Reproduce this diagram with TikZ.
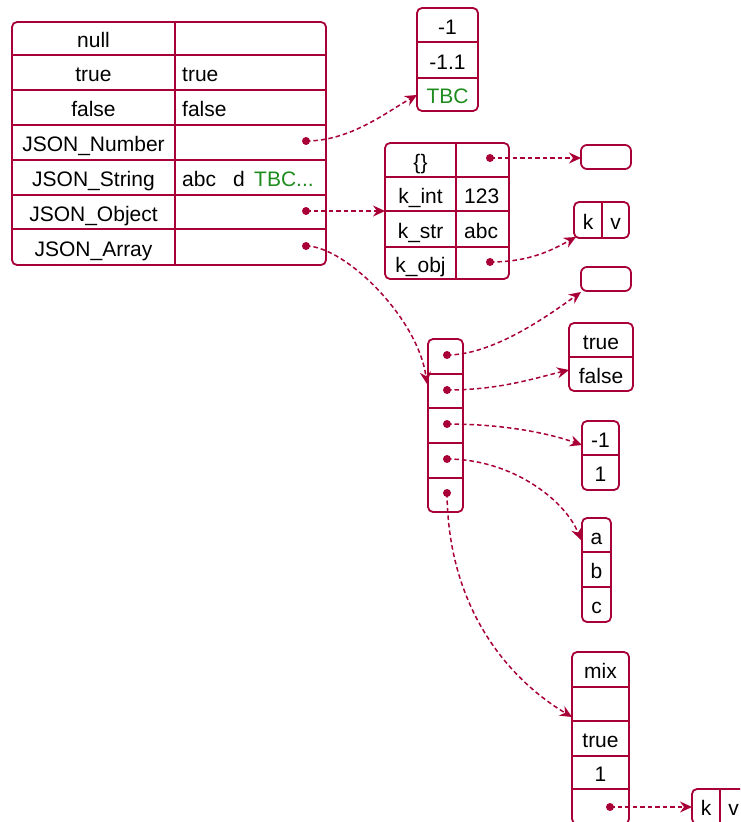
\documentclass[tikz,border=0pt]{standalone}
\usepackage{fontspec}
\setmainfont{Liberation Sans}
\usetikzlibrary{arrows.meta}
\definecolor{pu}{HTML}{A80036}
\definecolor{tbc}{HTML}{1E8C1E}
\begin{document}
\begin{tikzpicture}[x=1pt,y=-1pt,
 box/.style={draw=pu, line width=1.8pt, rounded corners=5pt, anchor=north west, inner sep=0pt, outer sep=0pt},
 sep/.style={draw=pu, line width=1.6pt},
 lbl/.style={anchor=base, inner sep=0pt, font=\fontsize{21}{25}\selectfont},
 lbll/.style={lbl, anchor=base west},
 dotn/.style={circle, fill=pu, inner sep=0pt, minimum size=8pt},
 link/.style={draw=pu, line width=1.5pt, dash pattern=on 4.5pt off 3pt, -{Stealth[length=12pt,width=11pt,inset=4pt]}},
]
\useasboundingbox (0,0) rectangle (740,822);
\clip (0,0) rectangle (740,822);

% main table
\node[box, minimum width=314pt, minimum height=243pt] (main) at (12,22) {};
\draw[sep] (175,22) -- (175,265);
\foreach \y in {55,90,125,160,195,229} \draw[sep] (12,\y) -- (326,\y);
\node[lbl] (m1) at (93.5,47.5) {null};
\node[lbl] (m2) at (93.5,81.5) {true};
\node[lbll] (m2v) at (182,81.5) {true};
\node[lbl] (m3) at (93.5,116.5) {false};
\node[lbll] (m3v) at (182,116.5) {false};
\node[lbl] (m4) at (93.5,151.5) {JSON\_Number};
\node[lbl] (m5) at (93.5,186.5) {JSON\_String};
\node[lbll] (m5a) at (182,186.5) {abc};
\node[lbll] (m5b) at (233,186.5) {d};
\node[lbll, text=tbc] (m5c) at (254,186.5) {TBC...};
\node[lbl] (m6) at (93.5,221) {JSON\_Object};
\node[lbl] (m7) at (93.5,256) {JSON\_Array};
\node[dotn] (dNum) at (306,141) {};
\node[dotn] (dObj) at (306,211) {};
\node[dotn] (dArr) at (306,246) {};

% number box
\node[box, minimum width=61pt, minimum height=103pt] (num) at (417,8) {};
\draw[sep] (417,42) -- (478,42);
\draw[sep] (417,78) -- (478,78);
\node[lbl] (n1) at (447.5,34) {-1};
\node[lbl] (n2) at (447.5,69) {-1.1};
\node[lbl, text=tbc] (n3) at (447.5,103.5) {TBC};

% object table
\node[box, minimum width=124pt, minimum height=136pt] (obj) at (385,143) {};
\draw[sep] (456,143) -- (456,279);
\foreach \y in {177,211,247} \draw[sep] (385,\y) -- (509,\y);
\node[lbl] (o1) at (420.5,169) {\{\}};
\node[lbl] (o2) at (420.5,203) {k\_int};
\node[lbll] (o2v) at (464,203) {123};
\node[lbl] (o3) at (420.5,238) {k\_str};
\node[lbll] (o3v) at (464,238) {abc};
\node[lbl] (o4) at (420.5,272) {k\_obj};
\node[dotn] (dO1) at (490,158) {};
\node[dotn] (dO4) at (490,262) {};

% small boxes on the right
\node[box, rounded corners=6pt, minimum width=50pt, minimum height=24pt] (e1) at (581,145) {};
\node[box, minimum width=55pt, minimum height=36pt] (kv1) at (574,202) {};
\draw[sep] (602,202) -- (602,238);
\node[lbl] (kv1k) at (588,229) {k};
\node[lbl] (kv1v) at (615.5,229) {v};
\node[box, rounded corners=6pt, minimum width=50pt, minimum height=24pt] (e2) at (581,267) {};

% array
\node[box, minimum width=35pt, minimum height=173pt] (arr) at (428,339) {};
\foreach \y in {374,408,443,478} \draw[sep] (428,\y) -- (463,\y);
\node[dotn] (a1) at (447,355) {};
\node[dotn] (a2) at (447,390) {};
\node[dotn] (a3) at (447,424) {};
\node[dotn] (a4) at (447,459) {};
\node[dotn] (a5) at (447,493) {};

% true/false
\node[box, minimum width=64pt, minimum height=68pt] (tf) at (569,323) {};
\draw[sep] (569,357) -- (633,357);
\node[lbl] (tf1) at (601,349) {true};
\node[lbl] (tf2) at (601,383) {false};

% -1 / 1
\node[box, minimum width=37pt, minimum height=69pt] (na) at (582,421) {};
\draw[sep] (582,455) -- (619,455);
\node[lbl] (na1) at (600.5,447) {-1};
\node[lbl] (na2) at (600.5,481.5) {1};

% a b c
\node[box, minimum width=29pt, minimum height=104pt] (abc) at (582,518) {};
\draw[sep] (582,552) -- (611,552);
\draw[sep] (582,587) -- (611,587);
\node[lbl] (c1) at (596.5,544) {a};
\node[lbl] (c2) at (596.5,578.5) {b};
\node[lbl] (c3) at (596.5,613.5) {c};

% mix
\node[box, minimum width=57pt, minimum height=172pt] (mix) at (572,652) {};
\foreach \y in {687,721,756,789} \draw[sep] (572,\y) -- (629,\y);
\node[lbl] (x1) at (600.5,678.5) {mix};
\node[lbl] (x3) at (600.5,747.5) {true};
\node[lbl] (x4) at (600.5,781.5) {1};
\node[dotn] (dMix) at (610,807) {};

% k v bottom
\node[box, minimum width=55pt, minimum height=35pt] (kv2) at (692,789) {};
\draw[sep] (720,789) -- (720,824);
\node[lbl] (kv2k) at (706,815.5) {k};
\node[lbl] (kv2v) at (733.5,815.5) {v};

% targets
\coordinate (tNum) at (417,95);
\coordinate (tArr) at (427,384);
\coordinate (tKv1) at (576,237);
\coordinate (tE2) at (581,292);
\coordinate (tTf) at (569,370);
\coordinate (tNa) at (582,445);
\coordinate (tAbc) at (581,540);
\coordinate (tMix) at (572,717);

% connectors
\draw[link] (dNum.center) .. controls (350,141) and (385,113) .. (tNum);
\draw[link] (dObj.center) -- (obj.west |- dObj);
\draw[link] (dArr.center) .. controls (345,246) and (418,318) .. (tArr);
\draw[link] (dO1.center) -- (e1.west |- dO1);
\draw[link] (dO4.center) .. controls (530,262) and (552,250) .. (tKv1);
\draw[link] (a1.center) .. controls (492,355) and (545,318) .. (tE2);
\draw[link] (a2.center) .. controls (500,390) and (535,378) .. (tTf);
\draw[link] (a3.center) .. controls (500,424) and (545,432) .. (tNa);
\draw[link] (a4.center) .. controls (512,459) and (565,500) .. (tAbc);
\draw[link] (a5.center) .. controls (448,610) and (510,680) .. (tMix);
\draw[link] (dMix.center) -- (kv2.west |- dMix);
\end{tikzpicture}
\end{document}
